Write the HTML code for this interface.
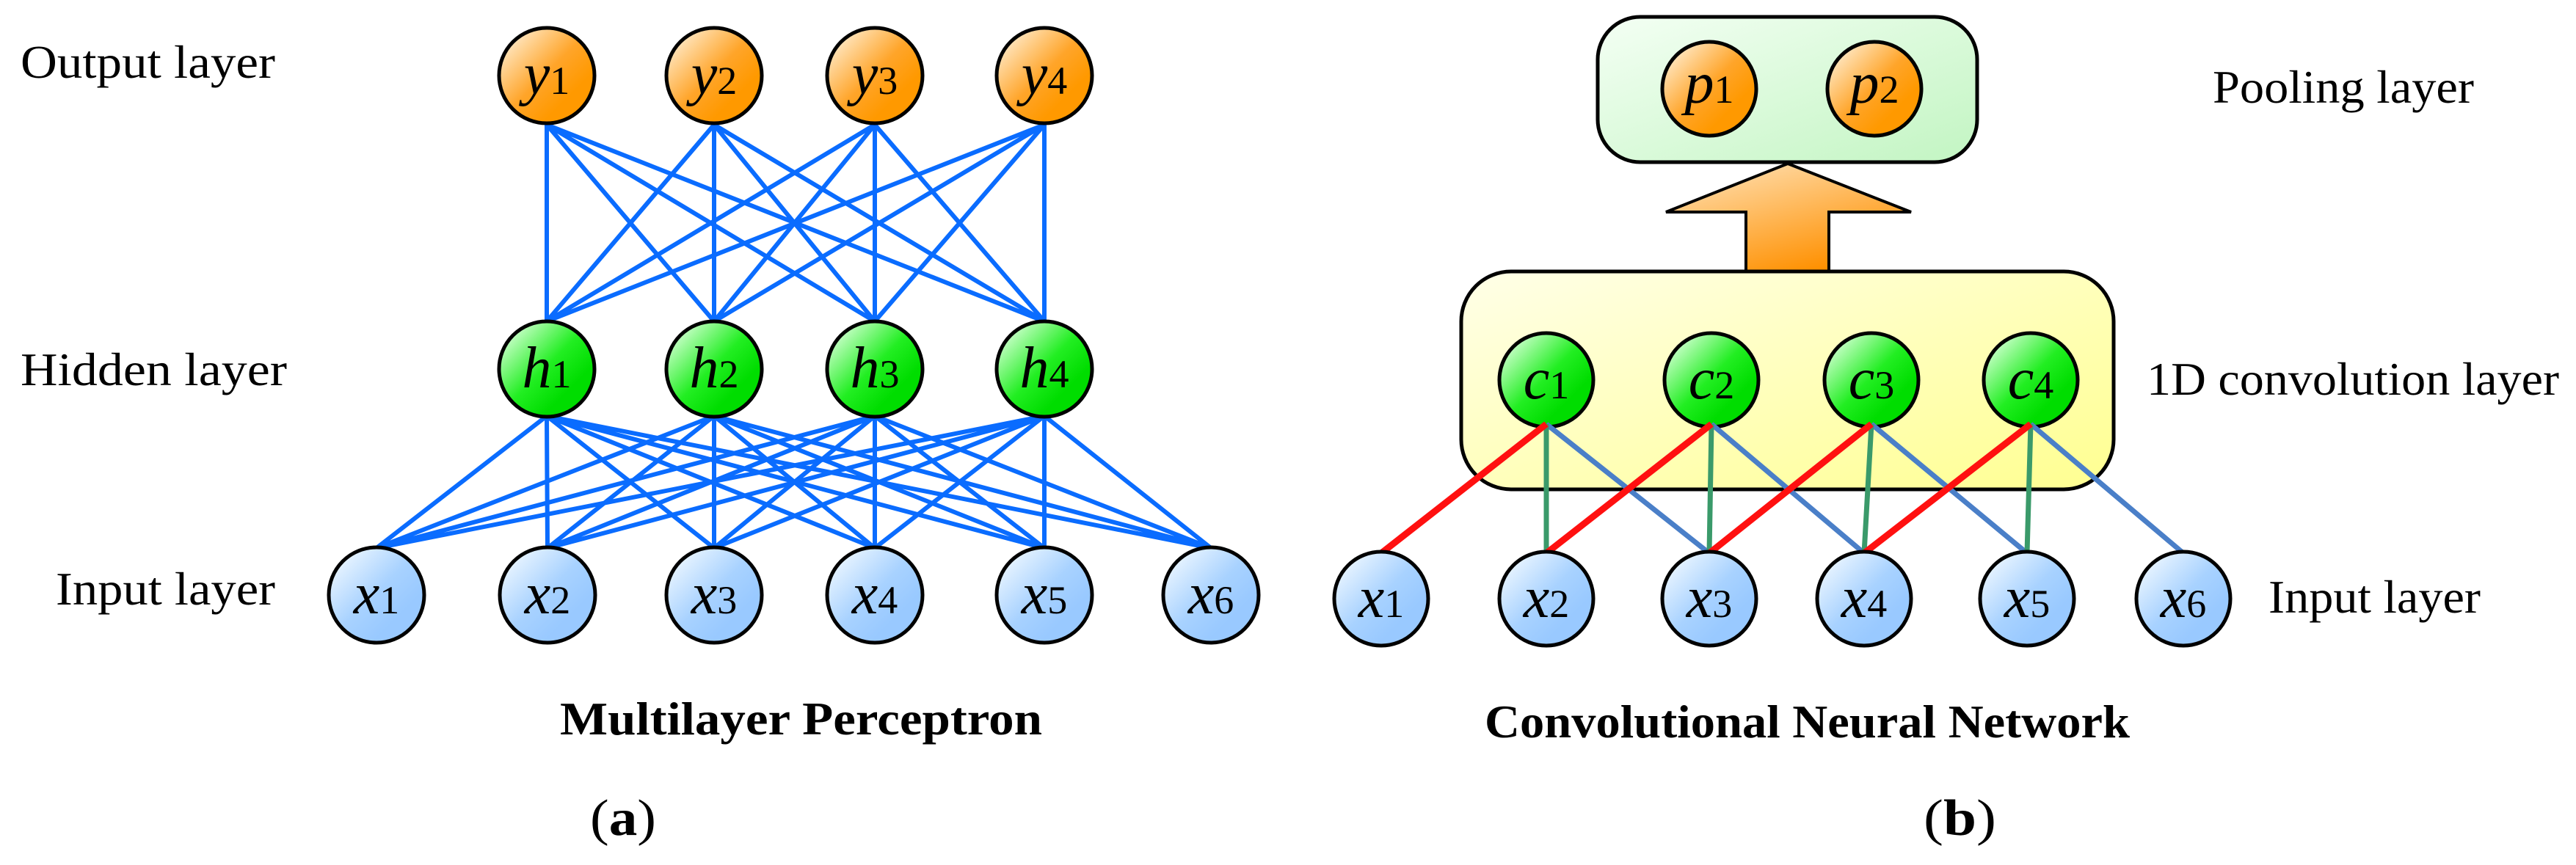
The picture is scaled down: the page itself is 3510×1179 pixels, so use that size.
<!DOCTYPE html>
<html><head><meta charset="utf-8"><style>html,body{margin:0;padding:0;background:#fff}svg{display:block}svg text{font-family:"Liberation Serif","Times New Roman",serif}</style></head><body>
<svg width="3510" height="1179" viewBox="0 0 3510 1179" xmlns="http://www.w3.org/2000/svg" style="font-family:'Liberation Serif',serif">
<defs>
<linearGradient id="go" x1="0.15" y1="0.1" x2="0.75" y2="0.7"><stop offset="0" stop-color="#ffe6c0"/><stop offset="0.6" stop-color="#ffa52a"/><stop offset="1" stop-color="#ff9900"/></linearGradient>
<linearGradient id="gg" x1="0.15" y1="0.1" x2="0.75" y2="0.7"><stop offset="0" stop-color="#c8ffc8"/><stop offset="0.6" stop-color="#22ee22"/><stop offset="1" stop-color="#00dd00"/></linearGradient>
<linearGradient id="gb" x1="0.15" y1="0.1" x2="0.75" y2="0.7"><stop offset="0" stop-color="#e8f4ff"/><stop offset="0.6" stop-color="#a8d2ff"/><stop offset="1" stop-color="#99c9ff"/></linearGradient>
<linearGradient id="gp" x1="0" y1="0" x2="1" y2="1"><stop offset="0" stop-color="#f4fff4"/><stop offset="1" stop-color="#c2f5c2"/></linearGradient>
<linearGradient id="gc" x1="0" y1="0" x2="1" y2="1"><stop offset="0" stop-color="#ffffe8"/><stop offset="1" stop-color="#ffff90"/></linearGradient>
<linearGradient id="ga" x1="0" y1="0" x2="0.6" y2="1"><stop offset="0" stop-color="#ffe6c0"/><stop offset="1" stop-color="#ff9000"/></linearGradient>
</defs>
<g stroke="#0a6cff" stroke-width="6" fill="none">
<path d="M745 170L745 438M745 170L973 438M745 170L1192 438M745 170L1423 438
M973 170L745 438M973 170L973 438M973 170L1192 438M973 170L1423 438
M1192 170L745 438M1192 170L973 438M1192 170L1192 438M1192 170L1423 438
M1423 170L745 438M1423 170L973 438M1423 170L1192 438M1423 170L1423 438"/>
<path d="M745 567L513 747M745 567L746 747M745 567L973 747M745 567L1192 747M745 567L1423 747M745 567L1650 747
M973 567L513 747M973 567L746 747M973 567L973 747M973 567L1192 747M973 567L1423 747M973 567L1650 747
M1192 567L513 747M1192 567L746 747M1192 567L973 747M1192 567L1192 747M1192 567L1423 747M1192 567L1650 747
M1423 567L513 747M1423 567L746 747M1423 567L973 747M1423 567L1192 747M1423 567L1423 747M1423 567L1650 747"/>
</g>
<g stroke="#000" stroke-width="5">
<g fill="url(#go)"><circle cx="745" cy="103" r="65"/><circle cx="973" cy="103" r="65"/><circle cx="1192" cy="103" r="65"/><circle cx="1423" cy="103" r="65"/></g>
<g fill="url(#gg)"><circle cx="745" cy="503" r="65"/><circle cx="973" cy="503" r="65"/><circle cx="1192" cy="503" r="65"/><circle cx="1423" cy="503" r="65"/></g>
<g fill="url(#gb)"><circle cx="513" cy="811" r="65"/><circle cx="746" cy="811" r="65"/><circle cx="973" cy="811" r="65"/><circle cx="1192" cy="811" r="65"/><circle cx="1423" cy="811" r="65"/><circle cx="1650" cy="811" r="65"/></g>
</g>
<g font-size="80" text-anchor="middle">
<text x="745" y="128"><tspan font-style="italic">y</tspan><tspan font-size="54">1</tspan></text>
<text x="973" y="128"><tspan font-style="italic">y</tspan><tspan font-size="54">2</tspan></text>
<text x="1192" y="128"><tspan font-style="italic">y</tspan><tspan font-size="54">3</tspan></text>
<text x="1423" y="128"><tspan font-style="italic">y</tspan><tspan font-size="54">4</tspan></text>
<text x="745" y="528"><tspan font-style="italic">h</tspan><tspan font-size="54">1</tspan></text>
<text x="973" y="528"><tspan font-style="italic">h</tspan><tspan font-size="54">2</tspan></text>
<text x="1192" y="528"><tspan font-style="italic">h</tspan><tspan font-size="54">3</tspan></text>
<text x="1423" y="528"><tspan font-style="italic">h</tspan><tspan font-size="54">4</tspan></text>
<text x="513" y="836"><tspan font-style="italic">x</tspan><tspan font-size="54">1</tspan></text>
<text x="746" y="836"><tspan font-style="italic">x</tspan><tspan font-size="54">2</tspan></text>
<text x="973" y="836"><tspan font-style="italic">x</tspan><tspan font-size="54">3</tspan></text>
<text x="1192" y="836"><tspan font-style="italic">x</tspan><tspan font-size="54">4</tspan></text>
<text x="1423" y="836"><tspan font-style="italic">x</tspan><tspan font-size="54">5</tspan></text>
<text x="1650" y="836"><tspan font-style="italic">x</tspan><tspan font-size="54">6</tspan></text>
</g>
<g font-size="64">
<text x="28" y="106" textLength="347" lengthAdjust="spacingAndGlyphs">Output layer</text>
<text x="28" y="525" textLength="363" lengthAdjust="spacingAndGlyphs">Hidden layer</text>
<text x="76" y="824" textLength="299" lengthAdjust="spacingAndGlyphs">Input layer</text>
<text x="763" y="1001" font-weight="bold" textLength="657" lengthAdjust="spacingAndGlyphs">Multilayer Perceptron</text>
<text x="804" y="1138" font-size="70" textLength="90" lengthAdjust="spacingAndGlyphs">(<tspan font-weight="bold">a</tspan>)</text>
<text x="3015" y="140" textLength="356" lengthAdjust="spacingAndGlyphs">Pooling layer</text>
<text x="2925" y="538" textLength="562" lengthAdjust="spacingAndGlyphs">1D convolution layer</text>
<text x="3091" y="835" textLength="289" lengthAdjust="spacingAndGlyphs">Input layer</text>
<text x="2023" y="1005" font-weight="bold" textLength="879" lengthAdjust="spacingAndGlyphs">Convolutional Neural Network</text>
<text x="2621" y="1138" font-size="70" textLength="99" lengthAdjust="spacingAndGlyphs">(<tspan font-weight="bold">b</tspan>)</text>
</g>
<rect x="2177" y="23" width="517" height="198" rx="58" fill="url(#gp)" stroke="#000" stroke-width="5"/>
<polygon points="2436,223 2604,289 2492,289 2492,370 2379,370 2379,289 2270,289" fill="url(#ga)" stroke="#000" stroke-width="4"/>
<rect x="1991" y="370" width="889" height="297" rx="68" fill="url(#gc)" stroke="#000" stroke-width="5"/>
<g stroke="#000" stroke-width="5">
<g fill="url(#go)"><circle cx="2329" cy="121" r="64"/><circle cx="2554" cy="121" r="64"/></g>
<g fill="url(#gg)"><circle cx="2107" cy="518" r="64"/><circle cx="2332" cy="518" r="64"/><circle cx="2550" cy="518" r="64"/><circle cx="2767" cy="518" r="64"/></g>
</g>
<g stroke-width="7" fill="none">
<path stroke="#4a7fc8" d="M2107 578L2329 754M2332 578L2540 754M2550 578L2762 754M2767 578L2975 754"/>
<path stroke="#3a9a6a" d="M2107 578L2107 754M2332 578L2329 754M2550 578L2540 754M2767 578L2762 754"/>
<path stroke="#ff1010" stroke-width="9" d="M2107 578L1882 754M2332 578L2107 754M2550 578L2329 754M2767 578L2540 754"/>
</g>
<g stroke="#000" stroke-width="5" fill="url(#gb)">
<circle cx="1882" cy="816" r="64"/><circle cx="2107" cy="816" r="64"/><circle cx="2329" cy="816" r="64"/><circle cx="2540" cy="816" r="64"/><circle cx="2762" cy="816" r="64"/><circle cx="2975" cy="816" r="64"/>
</g>
<g font-size="80" text-anchor="middle">
<text x="2329" y="140"><tspan font-style="italic">p</tspan><tspan font-size="54">1</tspan></text>
<text x="2554" y="140"><tspan font-style="italic">p</tspan><tspan font-size="54">2</tspan></text>
<text x="2107" y="543"><tspan font-style="italic">c</tspan><tspan font-size="54">1</tspan></text>
<text x="2332" y="543"><tspan font-style="italic">c</tspan><tspan font-size="54">2</tspan></text>
<text x="2550" y="543"><tspan font-style="italic">c</tspan><tspan font-size="54">3</tspan></text>
<text x="2767" y="543"><tspan font-style="italic">c</tspan><tspan font-size="54">4</tspan></text>
<text x="1882" y="841"><tspan font-style="italic">x</tspan><tspan font-size="54">1</tspan></text>
<text x="2107" y="841"><tspan font-style="italic">x</tspan><tspan font-size="54">2</tspan></text>
<text x="2329" y="841"><tspan font-style="italic">x</tspan><tspan font-size="54">3</tspan></text>
<text x="2540" y="841"><tspan font-style="italic">x</tspan><tspan font-size="54">4</tspan></text>
<text x="2762" y="841"><tspan font-style="italic">x</tspan><tspan font-size="54">5</tspan></text>
<text x="2975" y="841"><tspan font-style="italic">x</tspan><tspan font-size="54">6</tspan></text>
</g>
</svg>
</body></html>
